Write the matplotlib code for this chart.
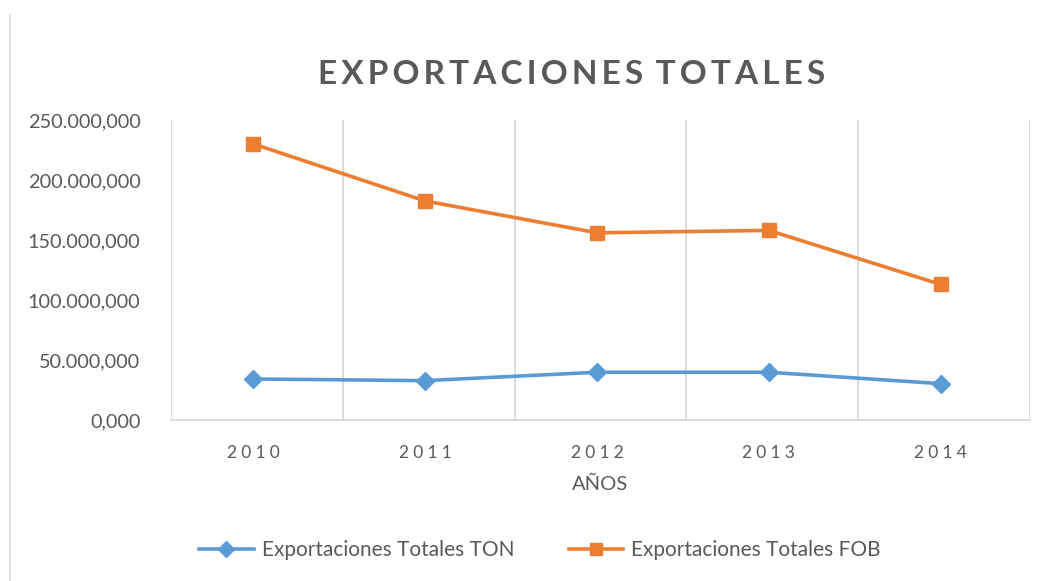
import matplotlib.pyplot as plt
from matplotlib.lines import Line2D

# Data (millions)
years = ["2010", "2011", "2012", "2013", "2014"]
ton = [34.2, 32.8, 39.8, 39.8, 30.3]
fob = [230.0, 182.5, 156.0, 158.0, 113.0]

blue = "#5B9BD5"
orange = "#ED7D31"
gray_txt = "#595959"
grid_col = "#D9D9D9"

plt.rcParams['font.family'] = ['Lato', 'DejaVu Sans']

fig = plt.figure(figsize=(10.42, 5.81), dpi=100)
ax = fig.add_axes([171 / 1042, 1 - 420 / 581, (1030 - 171) / 1042, 300 / 581])

x = range(len(years))
ax.plot(x, ton, color=blue, lw=2.6, marker="D", ms=9.5, label="Exportaciones Totales TON")
ax.plot(x, fob, color=orange, lw=2.6, marker="s", ms=10.5, label="Exportaciones Totales FOB")

ax.set_xlim(-0.48, len(years) - 0.48)
ax.set_ylim(0, 250)
ax.set_yticks([0, 50, 100, 150, 200, 250])
ax.set_yticklabels(["0,000", "50.000,000", "100.000,000", "150.000,000",
                    "200.000,000", "250.000,000"], fontsize=14.3, color=gray_txt)
ax.set_xticks(list(x))
ax.set_xticklabels(["\u2009\u2009".join(y) for y in years], fontsize=12.5, color=gray_txt)
ax.tick_params(axis="both", length=0)
ax.tick_params(axis="y", pad=22)
ax.tick_params(axis="x", pad=18)

# vertical grid lines at category boundaries
for b in range(len(years) + 1):
    ax.axvline(b - 0.48, color=grid_col, lw=1.3, zorder=0)
for s in ["top", "left", "right"]:
    ax.spines[s].set_visible(False)
ax.spines["bottom"].set_color(grid_col)
ax.spines["bottom"].set_linewidth(1.3)

ax.set_xlabel("AÑOS", fontsize=14.5, color=gray_txt, labelpad=11)

title = "\u2009".join("EXPORTACIONES") + "\u2009\u2009\u2009" + "\u2009".join("TOTALES")
fig.text(572 / 1042, 1 - 75 / 581, title, ha="center", va="center",
         fontsize=24, fontweight="bold", color=gray_txt)

handles = [Line2D([], [], color=blue, lw=2.6, marker="D", ms=8),
           Line2D([], [], color=orange, lw=2.6, marker="s", ms=9)]
fig.legend(handles, ["Exportaciones Totales TON", "Exportaciones Totales FOB"],
           loc="center", bbox_to_anchor=(540 / 1042, 1 - 550 / 581), ncol=2,
           frameon=False, fontsize=15, handlelength=2.6, columnspacing=2.6,
           handletextpad=0.4, labelcolor=gray_txt)

fig.add_artist(Line2D([10 / 1042, 10 / 1042], [0, 1 - 15 / 581],
                      transform=fig.transFigure, color=grid_col, lw=1.2))

fig.savefig("out.png", dpi=100, facecolor="white")
